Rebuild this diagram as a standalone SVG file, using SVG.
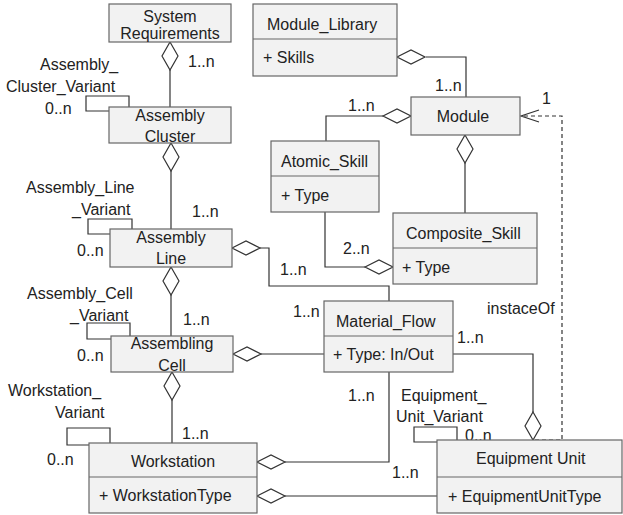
<svg xmlns="http://www.w3.org/2000/svg" xmlns:xlink="http://www.w3.org/1999/xlink" width="623" height="515" viewBox="0 0 623 515">
  <style>
    text { font-family: "Liberation Sans", Arial, sans-serif; font-size: 16px; fill: #222; }
    .c { text-anchor: middle; }
    .box { fill: #f2f2f2; stroke: #666; stroke-width: 1.2; }
    .div { stroke: #666; stroke-width: 1.2; }
    .ln { fill: none; stroke: #333; stroke-width: 1.2; }
    .dash { fill: none; stroke: #333; stroke-width: 1.2; stroke-dasharray: 4 3; }
    .dia { fill: #fff; stroke: #333; stroke-width: 1.2; }
  </style>
  <defs>
    <!-- aggregation diamonds: vertical (tip at origin, pointing up) and horizontal (tip at origin, pointing left) -->
    <path id="dv" class="dia" d="M0,0 L8,14 L0,28 L-8,14 Z"/>
    <path id="dh" class="dia" d="M0,0 L14,-7 L28,0 L14,7 Z"/>
  </defs>

  <!-- connectors -->
  <g id="connectors">
    <!-- System Requirements - Assembly Cluster -->
    <line class="ln" x1="170" y1="70" x2="170" y2="107"/>
    <use xlink:href="#dv" x="170" y="42"/>
    <text x="188" y="67">1..n</text>

    <!-- Assembly Cluster self loop -->
    <polyline class="ln" points="129,107 129,96 86,96 86,111 109,111"/>
    <text x="40" y="70">Assembly_</text>
    <text x="6" y="92">Cluster_Variant</text>
    <text x="45" y="114">0..n</text>

    <!-- Assembly Cluster - Assembly Line -->
    <line class="ln" x1="171" y1="171" x2="171" y2="229"/>
    <use xlink:href="#dv" x="171" y="143"/>
    <text x="192" y="217">1..n</text>

    <!-- Assembly Line self loop -->
    <polyline class="ln" points="132,229 132,219 88,219 88,234 110,234"/>
    <text x="26" y="193">Assembly_Line</text>
    <text x="72" y="215">_Variant</text>
    <text x="77" y="256">0..n</text>

    <!-- Assembly Line - Material_Flow -->
    <polyline class="ln" points="260,248 269,248 269,286 389,286 389,301"/>
    <use xlink:href="#dh" x="232" y="248"/>
    <text x="280" y="275">1..n</text>
    <text x="293" y="317">1..n</text>

    <!-- Assembly Line - Assembling Cell -->
    <line class="ln" x1="171" y1="295" x2="171" y2="336"/>
    <use xlink:href="#dv" x="171" y="267"/>
    <text x="183" y="325">1..n</text>

    <!-- Assembling Cell self loop -->
    <polyline class="ln" points="130,336 130,323 87,323 87,339 111,339"/>
    <text x="27" y="299">Assembly_Cell</text>
    <text x="70" y="321">_Variant</text>
    <text x="77" y="361">0..n</text>

    <!-- Assembling Cell - Material_Flow -->
    <line class="ln" x1="261" y1="354" x2="324" y2="354"/>
    <use xlink:href="#dh" x="233" y="354"/>

    <!-- Assembling Cell - Workstation -->
    <line class="ln" x1="172" y1="400" x2="172" y2="443"/>
    <use xlink:href="#dv" x="172" y="372"/>
    <text x="182" y="439">1..n</text>

    <!-- Workstation self loop -->
    <polyline class="ln" points="110,443 110,428 67,428 67,445 89,445"/>
    <text x="8" y="396">Workstation_</text>
    <text x="55" y="418">Variant</text>
    <text x="47" y="465">0..n</text>

    <!-- Workstation - Material_Flow -->
    <polyline class="ln" points="285,462 389,462 389,372"/>
    <use xlink:href="#dh" x="257" y="462"/>
    <text x="348" y="401">1..n</text>

    <!-- Workstation - Equipment Unit -->
    <line class="ln" x1="285" y1="496" x2="437" y2="496"/>
    <use xlink:href="#dh" x="257" y="496"/>
    <text x="392" y="478">1..n</text>

    <!-- Material_Flow - Equipment Unit -->
    <polyline class="ln" points="453,354 533,354 533,412"/>
    <use xlink:href="#dv" x="533" y="412"/>
    <text x="457" y="343">1..n</text>

    <!-- Equipment Unit self loop -->
    <polyline class="ln" points="457,440 457,427 414,427 414,442 437,442"/>
    <text x="401" y="401">Equipment_</text>
    <text x="396" y="422">Unit_Variant</text>
    <text x="465" y="441">0..n</text>

    <!-- Equipment Unit instanceOf Module (dependency) -->
    <polyline class="dash" points="535,440 562,440 562,116 521,116"/>
    <polyline class="ln" points="539,110 521,116 539,122"/>
    <text x="542" y="104">1</text>
    <text x="487" y="314">instaceOf</text>

    <!-- Module_Library - Module -->
    <polyline class="ln" points="426,57 466,57 466,97"/>
    <use xlink:href="#dh" x="397" y="57"/>
    <text x="435" y="91">1..n</text>

    <!-- Module - Atomic_Skill -->
    <polyline class="ln" points="383,116 326,116 326,141"/>
    <use xlink:href="#dh" x="383" y="116"/>
    <text x="348" y="111">1..n</text>

    <!-- Module - Composite_Skill -->
    <line class="ln" x1="465" y1="163" x2="465" y2="213"/>
    <use xlink:href="#dv" x="465" y="135"/>

    <!-- Atomic_Skill - Composite_Skill -->
    <polyline class="ln" points="325,212 325,267 365,267"/>
    <use xlink:href="#dh" x="365" y="267"/>
    <text x="343" y="254">2..n</text>
  </g>

  <!-- nodes -->
  <g id="system-requirements">
    <rect class="box" x="109" y="4" width="122" height="38"/>
    <text class="c" x="170" y="22">System</text>
    <text class="c" x="170" y="39">Requirements</text>
  </g>
  <g id="assembly-cluster">
    <rect class="box" x="109" y="107" width="122" height="36"/>
    <text class="c" x="170" y="121">Assembly</text>
    <text class="c" x="170" y="142">Cluster</text>
  </g>
  <g id="assembly-line">
    <rect class="box" x="110" y="229" width="122" height="38"/>
    <text class="c" x="171" y="243">Assembly</text>
    <text class="c" x="171" y="264">Line</text>
  </g>
  <g id="assembling-cell">
    <rect class="box" x="111" y="336" width="122" height="36"/>
    <text class="c" x="172" y="349">Assembling</text>
    <text class="c" x="172" y="371">Cell</text>
  </g>
  <g id="workstation">
    <rect class="box" x="89" y="443" width="168" height="70"/>
    <line class="div" x1="89" y1="477" x2="257" y2="477"/>
    <text class="c" x="173" y="467">Workstation</text>
    <text x="99" y="501">+ WorkstationType</text>
  </g>
  <g id="module-library">
    <rect class="box" x="253" y="4" width="144" height="72"/>
    <line class="div" x1="253" y1="39" x2="397" y2="39"/>
    <text x="267" y="30">Module_Library</text>
    <text x="263" y="63">+ Skills</text>
  </g>
  <g id="module">
    <rect class="box" x="411" y="97" width="109" height="38"/>
    <text class="c" x="463" y="122">Module</text>
  </g>
  <g id="atomic-skill">
    <rect class="box" x="271" y="141" width="108" height="71"/>
    <line class="div" x1="271" y1="176" x2="379" y2="176"/>
    <text x="281" y="167">Atomic_Skill</text>
    <text x="281" y="201">+ Type</text>
  </g>
  <g id="composite-skill">
    <rect class="box" x="393" y="213" width="144" height="71"/>
    <line class="div" x1="393" y1="248" x2="537" y2="248"/>
    <text x="406" y="239">Composite_Skill</text>
    <text x="402" y="273">+ Type</text>
  </g>
  <g id="material-flow">
    <rect class="box" x="324" y="301" width="129" height="71"/>
    <line class="div" x1="324" y1="336" x2="453" y2="336"/>
    <text x="336" y="327">Material_Flow</text>
    <text x="333" y="360">+ Type: In/Out</text>
  </g>
  <g id="equipment-unit">
    <rect class="box" x="437" y="440" width="185" height="73"/>
    <line class="div" x1="437" y1="477" x2="622" y2="477"/>
    <text x="476" y="464">Equipment Unit</text>
    <text x="448" y="502">+ EquipmentUnitType</text>
  </g>
</svg>
